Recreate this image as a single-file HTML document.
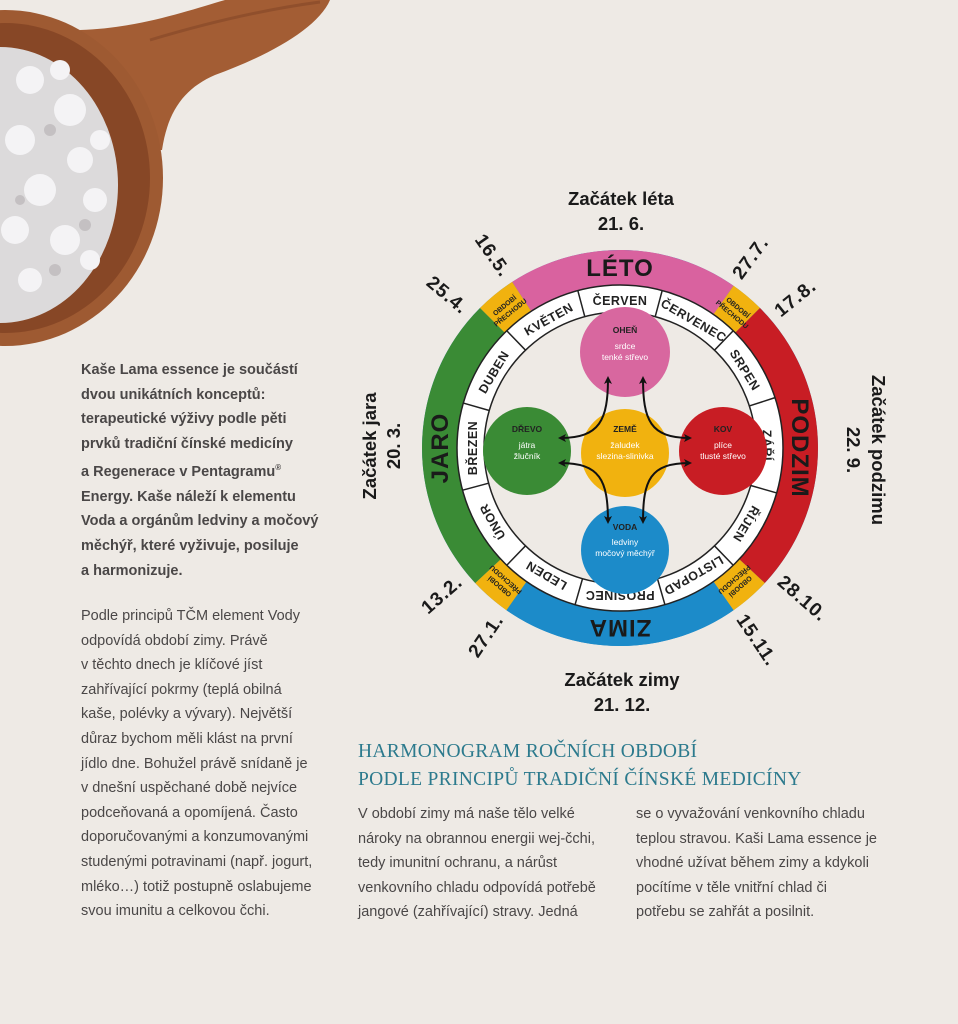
<!DOCTYPE html>
<html><head><meta charset="utf-8"><style>
html,body{margin:0;padding:0}
body{width:958px;height:1024px;background:#eeeae5;position:relative;overflow:hidden;font-family:"Liberation Sans",sans-serif;color:#4a4747}
.p{position:absolute;font-size:14.5px;line-height:24.6px;margin:0}
.b{font-weight:bold}
h2{position:absolute;left:358px;top:738px;margin:0;font-family:"Liberation Serif",serif;font-weight:normal;color:#2c7a8d;font-size:19.5px;line-height:28px;letter-spacing:0.3px}
</style></head><body>
<svg width="958" height="1024" style="position:absolute;left:0;top:0">
<defs>
<marker id="ah" markerWidth="8" markerHeight="8" refX="6" refY="4" orient="auto-start-reverse" markerUnits="userSpaceOnUse"><path d="M0,0 L8,4 L0,8 L2,4z" fill="#111"/></marker>
</defs>
<!-- spoon -->
<path d="M80,30 C140,28 190,10 225,0 L330,0 C318,28 270,55 215,75 C185,88 168,110 162,150 L110,150 Z" fill="#a35d34"/>
<path d="M150,40 C200,25 260,10 320,2" stroke="#7e4223" stroke-width="3" fill="none" opacity="0.5"/>
<ellipse cx="5" cy="178" rx="158" ry="168" fill="#9e5a32"/>
<ellipse cx="5" cy="178" rx="145" ry="155" fill="#874726"/>
<ellipse cx="0" cy="185" rx="118" ry="138" fill="#dcdadb"/>
<g fill="#f4f3f5">
<circle cx="30" cy="80" r="14"/><circle cx="70" cy="110" r="16"/><circle cx="20" cy="140" r="15"/><circle cx="80" cy="160" r="13"/><circle cx="40" cy="190" r="16"/><circle cx="95" cy="200" r="12"/><circle cx="15" cy="230" r="14"/><circle cx="65" cy="240" r="15"/><circle cx="30" cy="280" r="12"/><circle cx="60" cy="70" r="10"/><circle cx="100" cy="140" r="10"/><circle cx="90" cy="260" r="10"/></g>
<g fill="#c4c0c2"><circle cx="50" cy="130" r="6"/><circle cx="85" cy="225" r="6"/><circle cx="20" cy="200" r="5"/><circle cx="55" cy="270" r="6"/></g>

<g transform="translate(620,448)">
<circle r="198" fill="#1e87c6"/>
</g>
<g transform="translate(620,448)" fill="none" stroke-width="35">
<path stroke="#d9629f" d="M-98.3,-151.4 A180.5,180.5 0 0 1 103.5,-147.9"/>
<path stroke="#f1b20f" d="M103.5,-147.9 A180.5,180.5 0 0 1 127.6,-127.6"/>
<path stroke="#c81d24" d="M127.6,-127.6 A180.5,180.5 0 0 1 132,123.1"/>
<path stroke="#f1b20f" d="M132,123.1 A180.5,180.5 0 0 1 103.5,147.9"/>
<path stroke="#1c8bc9" d="M103.5,147.9 A180.5,180.5 0 0 1 -103.5,147.9"/>
<path stroke="#f1b20f" d="M-103.5,147.9 A180.5,180.5 0 0 1 -132,123.1"/>
<path stroke="#3a8b35" d="M-132,123.1 A180.5,180.5 0 0 1 -127.6,-127.6"/>
<path stroke="#f1b20f" d="M-127.6,-127.6 A180.5,180.5 0 0 1 -98.3,-151.4"/>
</g>
<g transform="translate(620,448)">
<circle r="163" fill="#fff" stroke="#222" stroke-width="1.5"/>
<circle r="136" fill="#eeeae5" stroke="#222" stroke-width="1.5"/>
<g stroke="#222" stroke-width="1.5">
<line x1="0" y1="-136" x2="0" y2="-163" transform="rotate(-15)"/>
<line x1="0" y1="-136" x2="0" y2="-163" transform="rotate(15)"/>
<line x1="0" y1="-136" x2="0" y2="-163" transform="rotate(44)"/>
<line x1="0" y1="-136" x2="0" y2="-163" transform="rotate(72)"/>
<line x1="0" y1="-136" x2="0" y2="-163" transform="rotate(106)"/>
<line x1="0" y1="-136" x2="0" y2="-163" transform="rotate(136)"/>
<line x1="0" y1="-136" x2="0" y2="-163" transform="rotate(164)"/>
<line x1="0" y1="-136" x2="0" y2="-163" transform="rotate(196)"/>
<line x1="0" y1="-136" x2="0" y2="-163" transform="rotate(224)"/>
<line x1="0" y1="-136" x2="0" y2="-163" transform="rotate(255)"/>
<line x1="0" y1="-136" x2="0" y2="-163" transform="rotate(286)"/>
<line x1="0" y1="-136" x2="0" y2="-163" transform="rotate(316)"/>
</g>
<g font-size="12.5" fill="#222" text-anchor="middle" letter-spacing="0.5" font-weight="bold">
<text y="-143" transform="rotate(0)">ČERVEN</text>
<text y="-143" transform="rotate(30)">ČERVENEC</text>
<text y="-143" transform="rotate(58)">SRPEN</text>
<text y="-143" transform="rotate(89)">ZÁŘÍ</text>
<text y="-143" transform="rotate(121)">ŘÍJEN</text>
<text y="-143" transform="rotate(150)">LISTOPAD</text>
<text y="-143" transform="rotate(180)">PROSINEC</text>
<text y="-143" transform="rotate(210)">LEDEN</text>
<text y="-143" transform="rotate(240)">ÚNOR</text>
<text y="-143" transform="rotate(270)">BŘEZEN</text>
<text y="-143" transform="rotate(301)">DUBEN</text>
<text y="-143" transform="rotate(331)">KVĚTEN</text>
</g>
<g font-size="24" fill="#1a1a1a" text-anchor="middle" letter-spacing="1" font-weight="bold">
<text y="-172" transform="rotate(0)">LÉTO</text>
<text y="-172" transform="rotate(90)">PODZIM</text>
<text y="-172" transform="rotate(180)">ZIMA</text>
<text y="-172" transform="rotate(270)">JARO</text>
</g>
<g font-size="7" fill="#222" text-anchor="middle" font-weight="bold">
<text y="-181" transform="rotate(-39)">OBDOBÍ</text><text y="-172" transform="rotate(-39)">PŘECHODU</text>
<text y="-181" transform="rotate(40)">OBDOBÍ</text><text y="-172" transform="rotate(40)">PŘECHODU</text>
<text y="-181" transform="rotate(139)">OBDOBÍ</text><text y="-172" transform="rotate(139)">PŘECHODU</text>
<text y="-181" transform="rotate(-139)">OBDOBÍ</text><text y="-172" transform="rotate(-139)">PŘECHODU</text>
</g>
<g font-size="19" fill="#1a1a1a" letter-spacing="1" font-weight="bold">
<text transform="rotate(-35) translate(0,-207) rotate(90)" text-anchor="end">16.5.</text>
<text transform="rotate(-50) translate(0,-207) rotate(90)" text-anchor="end">25.4.</text>
<text transform="rotate(-131) translate(0,-207) rotate(90)" text-anchor="end">13.2.</text>
<text transform="rotate(-146) translate(0,-207) rotate(90)" text-anchor="end">27.1.</text>
<text transform="rotate(36) translate(0,-207) rotate(-90)" text-anchor="start">27.7.</text>
<text transform="rotate(51) translate(0,-207) rotate(-90)" text-anchor="start">17.8.</text>
<text transform="rotate(131) translate(0,-207) rotate(-90)" text-anchor="start">28.10.</text>
<text transform="rotate(146) translate(0,-207) rotate(-90)" text-anchor="start">15.11.</text>
</g>
</g>
<circle cx="625" cy="352" r="45" fill="#d8679f"/>
<circle cx="527" cy="451" r="44" fill="#3a8b35"/>
<circle cx="625" cy="453" r="44" fill="#f1b20f"/>
<circle cx="723" cy="451" r="44" fill="#c81d24"/>
<circle cx="625" cy="550" r="44" fill="#1c8bc9"/>
<g font-size="8.5" text-anchor="middle" fill="#fff">
<text x="625" y="333" fill="#222" font-weight="bold">OHEŇ</text><text x="625" y="349">srdce</text><text x="625" y="360">tenké střevo</text>
<text x="527" y="432" fill="#222" font-weight="bold">DŘEVO</text><text x="527" y="448">játra</text><text x="527" y="459">žlučník</text>
<text x="625" y="432" fill="#222" font-weight="bold">ZEMĚ</text><text x="625" y="448">žaludek</text><text x="625" y="459">slezina-slinivka</text>
<text x="723" y="432" fill="#222" font-weight="bold">KOV</text><text x="723" y="448">plíce</text><text x="723" y="459">tlusté střevo</text>
<text x="625" y="530" fill="#222" font-weight="bold">VODA</text><text x="625" y="545">ledviny</text><text x="625" y="556">močový měchýř</text>
</g>
<g fill="none" stroke="#111" stroke-width="2" marker-start="url(#ah)" marker-end="url(#ah)">
<path d="M608,378 C608,420 600,438 560,438"/>
<path d="M643,378 C643,420 650,438 690,438"/>
<path d="M560,463 C600,463 608,480 608,522"/>
<path d="M690,463 C650,463 643,480 643,522"/>
</g>
<g font-size="18.5" fill="#1a1a1a" text-anchor="middle" font-weight="bold">
<text x="621" y="205">Začátek léta</text><text x="621" y="230">21. 6.</text>
<text x="622" y="686">Začátek zimy</text><text x="622" y="711">21. 12.</text>
<text transform="translate(376,446) rotate(-90)">Začátek jara</text>
<text transform="translate(400,446) rotate(-90)">20. 3.</text>
<text transform="translate(872,450) rotate(90)">Začátek podzimu</text>
<text transform="translate(847,450) rotate(90)">22. 9.</text>
</g>
</svg>

<p class="p b" style="left:81px;top:358px">Kaše Lama essence je součástí<br>dvou unikátních konceptů:<br>terapeutické výživy podle pěti<br>prvků tradiční čínské medicíny<br>a Regenerace v Pentagramu<sup style="font-size:8px">®</sup><br>Energy. Kaše náleží k elementu<br>Voda a orgánům ledviny a močový<br>měchýř, které vyživuje, posiluje<br>a harmonizuje.</p>
<p class="p" style="left:81px;top:604px">Podle principů TČM element Vody<br>odpovídá období zimy. Právě<br>v těchto dnech je klíčové jíst<br>zahřívající pokrmy (teplá obilná<br>kaše, polévky a vývary). Největší<br>důraz bychom měli klást na první<br>jídlo dne. Bohužel právě snídaně je<br>v dnešní uspěchané době nejvíce<br>podceňovaná a opomíjená. Často<br>doporučovanými a konzumovanými<br>studenými potravinami (např. jogurt,<br>mléko…) totiž postupně oslabujeme<br>svou imunitu a celkovou čchi.</p>
<h2>HARMONOGRAM ROČNÍCH OBDOBÍ<br>PODLE PRINCIPŮ TRADIČNÍ ČÍNSKÉ MEDICÍNY</h2>
<p class="p" style="left:358px;top:802px">V období zimy má naše tělo velké<br>nároky na obrannou energii wej-čchi,<br>tedy imunitní ochranu, a nárůst<br>venkovního chladu odpovídá potřebě<br>jangové (zahřívající) stravy. Jedná</p>
<p class="p" style="left:636px;top:802px">se o vyvažování venkovního chladu<br>teplou stravou. Kaši Lama essence je<br>vhodné užívat během zimy a kdykoli<br>pocítíme v těle vnitřní chlad či<br>potřebu se zahřát a posilnit.</p>
</body></html>
